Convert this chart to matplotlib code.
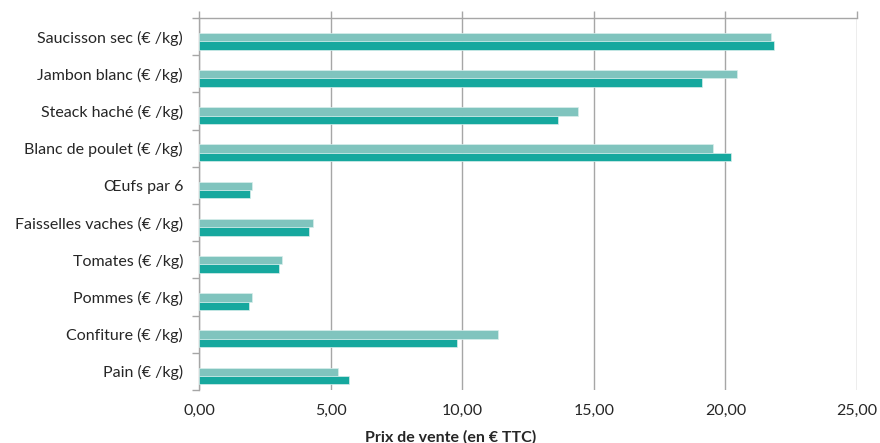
import matplotlib
matplotlib.use("Agg")
import matplotlib.pyplot as plt
import numpy as np
from matplotlib.ticker import FuncFormatter, FixedLocator

plt.rcParams['font.family'] = ['Lato', 'DejaVu Sans']

categories = ["Saucisson sec (€ /kg)", "Jambon blanc (€ /kg)", "Steack haché (€ /kg)",
              "Blanc de poulet (€ /kg)", "Œufs par 6", "Faisselles vaches (€ /kg)",
              "Tomates (€ /kg)", "Pommes (€ /kg)", "Confiture (€ /kg)", "Pain (€ /kg)"]
serie_claire = [21.72, 20.43, 14.39, 19.52, 2.00, 4.33, 3.14, 2.00, 11.35, 5.29]
serie_foncee = [21.85, 19.12, 13.63, 20.20, 1.94, 4.18, 3.05, 1.89, 9.81, 5.70]
xticks = [0, 5, 10, 15, 20, 25]
xlabel = "Prix de vente (en € TTC)"

light = "#80C4BE"
dark = "#16A89E"
grey = "#A6A6A6"

fig = plt.figure(figsize=(8.8, 4.43), dpi=100)
ax = fig.add_axes([199/880, 1-390/443, (857-199)/880, (390-18)/443])

y = np.arange(len(categories))
h = 0.225
ax.barh(y + 0.0125, serie_claire, height=h, color=light, edgecolor="#D8EEEC", linewidth=0.5, zorder=3)
ax.barh(y + 0.2375, serie_foncee, height=h, color=dark, edgecolor="#D8EEEC", linewidth=0.5, zorder=3)

ax.set_xlim(0, 25)
ax.set_ylim(len(categories) - 0.5, -0.5)

ax.xaxis.set_major_locator(FixedLocator(xticks))
ax.xaxis.set_major_formatter(FuncFormatter(lambda v, p: f"{v:.2f}".replace(".", ",")))
ax.grid(axis="x", color=grey, linewidth=1.0, zorder=0)
ax.tick_params(axis="x", which="major", bottom=False, top=True, labelbottom=True,
               labeltop=False, direction="out", length=5, color=grey, width=1,
               labelsize=11.5, labelcolor="#262626", pad=5)

ax.set_yticks(y)
ax.set_yticklabels(categories)
ax.set_yticks(np.arange(len(categories) + 1) - 0.5, minor=True)
ax.tick_params(axis="y", which="major", length=0, labelsize=11.5, labelcolor="#262626", pad=11.5)
ax.tick_params(axis="y", which="minor", length=5, color=grey, width=1, direction="out")

for s in ["right", "bottom"]:
    ax.spines[s].set_visible(False)
ax.spines["top"].set_color(grey)
ax.spines["left"].set_color(grey)
ax.spines["top"].set_linewidth(1)
ax.spines["left"].set_linewidth(1)

fig.text(451/880, 1-437/443, xlabel, ha="center", va="center", fontsize=11.5,
         fontweight="bold", color="#262626")

fig.savefig("out.png", dpi=100)
